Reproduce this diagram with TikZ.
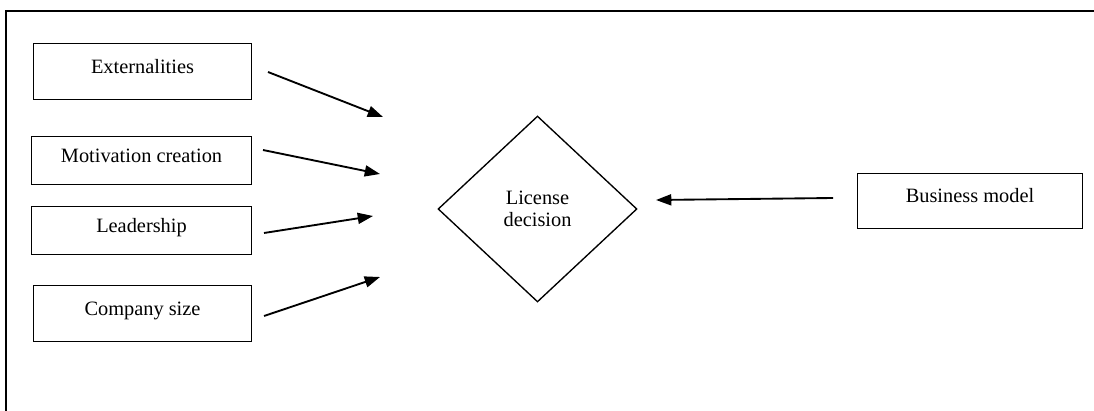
\documentclass[tikz,border=0pt]{standalone}
\usepackage{fontspec}
\setmainfont{Liberation Serif}
\usetikzlibrary{shapes,arrows.meta}

\begin{document}
\begin{tikzpicture}[x=0.0207cm,y=-0.0207cm,font=\fontsize{12}{13}\selectfont,
    box/.style={draw, line width=0.6pt, text height=8pt, text depth=6pt},
    arr/.style={line width=1.1pt, -{Triangle[length=9pt,width=6.5pt]}}]
\useasboundingbox (0,0) rectangle (1094,411);
% frame
\coordinate (fa) at (6,411);
\coordinate (fb) at (6,11);
\coordinate (fc) at (1094,11);
\draw[line width=0.6pt] (fa) -- (fb) -- (fc);
% factors
\node[box, minimum width=4.53cm, minimum height=1.14cm] (ext)  at (142.5,71.5)  {Externalities};
\node[box, minimum width=4.57cm, minimum height=1.01cm] (mot)  at (141.5,160.5) {Motivation creation};
\node[box, minimum width=4.57cm, minimum height=1.01cm] (lead) at (141.5,230.5) {Leadership};
\node[box, minimum width=4.53cm, minimum height=1.14cm] (comp) at (142.5,313.5) {Company size};
\node[box, minimum width=4.64cm, minimum height=1.12cm] (biz)  at (970,201)     {Business model};
\node[draw, diamond, line width=0.8pt, inner sep=0pt, align=center,
      minimum width=4.12cm, minimum height=3.85cm] (lic) at (537.5,209) {License\\decision};
% arrows
\coordinate (s1) at (268,72);  \coordinate (t1) at (383,117);
\coordinate (s2) at (263,150); \coordinate (t2) at (380,174);
\coordinate (s3) at (264,233); \coordinate (t3) at (373,216);
\coordinate (s4) at (264,316); \coordinate (t4) at (380,277);
\coordinate (s5) at (833,198); \coordinate (t5) at (656,200);
\foreach \i in {1,...,5}
    \draw[arr] (s\i) -- (t\i);
\end{tikzpicture}
\end{document}
